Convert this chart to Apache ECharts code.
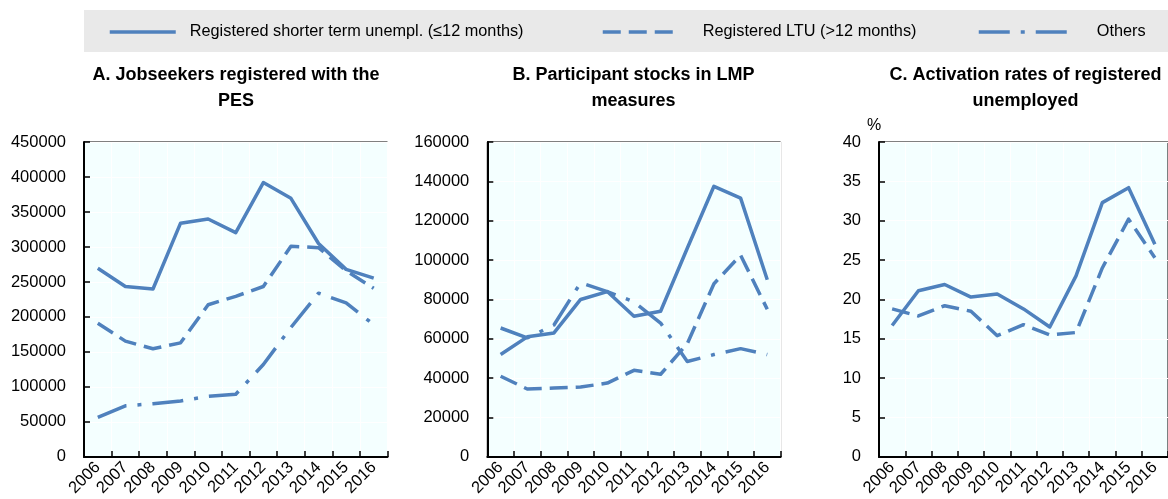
<!DOCTYPE html>
<html><head><meta charset="utf-8">
<script src="https://cdn.jsdelivr.net/npm/echarts@6/dist/echarts.min.js"></script>
<style>html,body{margin:0;padding:0;background:#fff;overflow:hidden}#c{width:1168px;height:499px}</style>
</head><body><div id="c"></div>
<script>
// ---------- data ----------
const years = ['2006','2007','2008','2009','2010','2011','2012','2013','2014','2015','2016'];
const seriesNames = ['Registered shorter term unempl. (\u226412 months)', 'Registered LTU (>12 months)', 'Others'];
const panelTitles = ['A. Jobseekers registered with the\nPES', 'B. Participant stocks in LMP\nmeasures', 'C. Activation rates of registered\nunemployed'];

const jobseekersShort  = [269500, 243500, 240000, 334000, 340000, 320500, 392000, 369500, 305000, 268000, 255500];
const jobseekersLTU    = [191000, 165500, 154500, 163000, 217500, 229500, 243500, 301000, 299000, 266000, 241000];
const jobseekersOthers = [56500, 73000, 76000, 80000, 86500, 89500, 132000, 185000, 234000, 220000, 189000];

const lmpShort  = [52000, 61000, 63000, 80000, 84000, 71500, 74000, 106000, 137500, 131500, 90000];
const lmpLTU    = [41000, 34500, 35000, 35500, 37500, 44000, 42000, 57500, 88000, 102500, 75000];
const lmpOthers = [65500, 60500, 67000, 88500, 84000, 78800, 68000, 48500, 52000, 55000, 52000];

const activationShort = [16.7, 21.1, 21.9, 20.3, 20.7, 18.8, 16.5, 23.0, 32.3, 34.2, 27.0];
const activationLTU   = [18.8, 17.9, 19.2, 18.5, 15.4, 16.8, 15.5, 15.8, 24.0, 30.2, 25.3];

const yMax = [450000, 160000, 40];
const yStep = [50000, 20000, 5];
const yUnit = ['', '', '%'];

// ---------- style ----------
const axisFont = {fontFamily: 'Liberation Sans', fontSize: 16.5};
const legendFont = {fontFamily: 'Liberation Sans', fontSize: 16.3};

const BLUE = '#4F81BD';
const lineTypes = ['solid', [18, 8], [31, 11, 4, 11]];
const grids = [
  {left: 84, width: 303.5, top: 142, height: 316},
  {left: 487.3, width: 293.3, top: 142, height: 316},
  {left: 879, width: 299, top: 142, height: 316}
];
const titleCenters = [236, 633.5, 1025.5];
const legendSlots = [
  {left: 108, width: 66, pad: 9},
  {left: 601, width: 73, pad: 22},
  {left: 977, width: 95, pad: 18}
];

const panelData = [
  [jobseekersShort, jobseekersLTU, jobseekersOthers],
  [lmpShort, lmpLTU, lmpOthers],
  [activationShort, activationLTU]
];

const option = {
  animation: false,
  backgroundColor: '#fff',
  textStyle: {fontFamily: 'Liberation Sans'},
  graphic: [{
    type: 'rect', z: -10, silent: true,
    shape: {x: 84, y: 10, width: 1120, height: 42},
    style: {fill: '#E9E9E9'}
  }],
  title: titleCenters.map((cx, i) => ({
    text: panelTitles[i], left: cx, top: 62, textAlign: 'center', padding: 0,
    textStyle: {fontFamily: 'Liberation Sans', fontSize: 18, fontWeight: 'bold', lineHeight: 26, color: '#000'}
  })),
  legend: legendSlots.map((l, i) => ({
    data: [seriesNames[i]], left: l.left, top: 24, itemWidth: l.width, itemHeight: 14,
    selectedMode: false, padding: 0,
    itemStyle: {opacity: 0},
    lineStyle: {width: 3.5},
    textStyle: Object.assign({color: '#000', padding: [0, 0, 0, l.pad]}, legendFont)
  })),
  grid: grids.map(g => Object.assign({show: true, backgroundColor: '#F4FFFF', borderColor: '#000', borderWidth: 1, containLabel: false}, g)),
  xAxis: grids.map((g, i) => ({
    type: 'category', gridIndex: i, data: years, boundaryGap: true,
    axisLine: {lineStyle: {color: '#000', width: 2}},
    axisTick: {show: true, inside: true, length: 6, lineStyle: {color: '#000', width: 1.5}},
    axisLabel: Object.assign({rotate: 45, margin: 8, interval: 0, color: '#000'}, axisFont),
    splitLine: {show: true, lineStyle: {color: '#fff', width: 1}}
  })),
  yAxis: grids.map((g, i) => ({
    type: 'value', gridIndex: i, min: 0, max: yMax[i], interval: yStep[i],
    name: yUnit[i], nameLocation: 'end', nameGap: 8,
    nameTextStyle: {fontFamily: 'Liberation Sans', fontSize: 16, color: '#000', align: 'center', padding: [0, 10, 0, 0]},
    axisLine: {show: true, lineStyle: {color: '#000', width: 2}},
    axisTick: {show: true, inside: true, length: 6, lineStyle: {color: '#000', width: 1.5}},
    axisLabel: Object.assign({margin: 18, color: '#000', formatter: v => String(v)}, axisFont),
    splitLine: {show: true, lineStyle: {color: '#fff', width: 1}}
  })),
  series: []
};

panelData.forEach((arrs, p) => {
  arrs.forEach((vals, s) => {
    option.series.push({
      type: 'line', name: seriesNames[s], xAxisIndex: p, yAxisIndex: p,
      data: vals, symbol: 'none', showSymbol: false, smooth: false,
      lineStyle: {color: BLUE, width: 3.5, type: lineTypes[s], cap: 'butt', join: 'round'},
      itemStyle: {color: BLUE}
    });
  });
});

const chart = echarts.init(document.getElementById('c'), null, {renderer: 'canvas'});
chart.setOption(option);
</script>
</body></html>
